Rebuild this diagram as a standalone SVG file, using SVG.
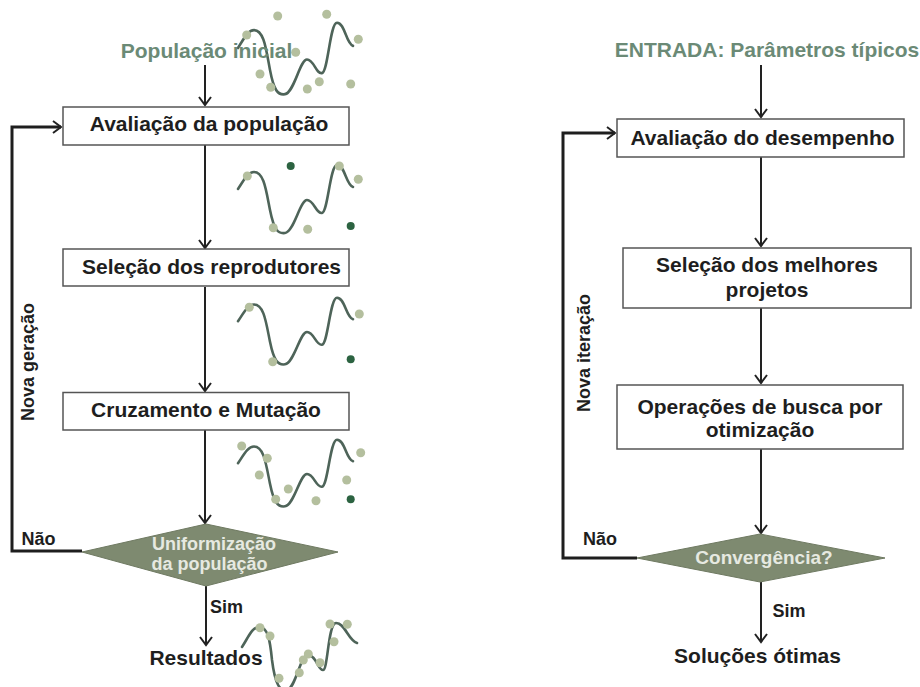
<svg xmlns="http://www.w3.org/2000/svg" width="920" height="687" viewBox="0 0 920 687">
<defs>
<style>
.box{fill:#fff;stroke:#555;stroke-width:1.5}
.dia{fill:#7e8a70;stroke:#6f7a62;stroke-width:1}
.t{font-family:"Liberation Sans",Arial,sans-serif;font-weight:bold;fill:#1e1e1e;text-anchor:middle}
.m{font-size:21px}
.d{font-size:18px}
.s{font-size:18px}
.g{fill:#6b8a76}
.w{fill:#e6e9e1}
.ln{fill:none;stroke:#222;stroke-width:2}
.loop{fill:none;stroke:#1e1e1e;stroke-width:3}
.cv{fill:none;stroke:#4e6459;stroke-width:2.6;stroke-linecap:round}
.lt{fill:#b4bf9e}
.dk{fill:#2c6341}
</style>
<marker id="ah" markerUnits="userSpaceOnUse" markerWidth="14" markerHeight="14" refX="9" refY="7" orient="auto" viewBox="0 0 14 14">
<path d="M1,1 L9,7 L1,13" fill="none" stroke="#222" stroke-width="2"/>
</marker>
<path id="wave" d="M8,39 C14,30 18,22 24,22 C34,22 36,40 40,60 C44,80 48,84 55,83 C64,82 70,50 77,50 C84,50 86,64 92,63 C98,62 100,15 107,15 C115,15 116,35 123,37"/>
</defs>

<g id="connectors">
<line class="ln" x1="205" y1="65" x2="205" y2="105" marker-end="url(#ah)"/>
<line class="ln" x1="205" y1="145" x2="205" y2="248" marker-end="url(#ah)"/>
<line class="ln" x1="205" y1="287" x2="205" y2="391" marker-end="url(#ah)"/>
<line class="ln" x1="205" y1="430" x2="205" y2="523" marker-end="url(#ah)"/>
<line class="ln" x1="206" y1="586" x2="206" y2="645" marker-end="url(#ah)"/>
<polyline class="loop" points="82,551 12,551 12,127 61,127" marker-end="url(#ah)"/>
<line class="ln" x1="761" y1="65" x2="761" y2="117" marker-end="url(#ah)"/>
<line class="ln" x1="761" y1="157" x2="761" y2="246" marker-end="url(#ah)"/>
<line class="ln" x1="761" y1="308" x2="761" y2="383" marker-end="url(#ah)"/>
<line class="ln" x1="761" y1="449" x2="761" y2="533" marker-end="url(#ah)"/>
<line class="ln" x1="761" y1="582" x2="761" y2="642" marker-end="url(#ah)"/>
<polyline class="loop" points="637,558 563,558 563,133 615,133" marker-end="url(#ah)"/>
</g>

<g id="curve1">
<use href="#wave" class="cv" transform="translate(230,7) scale(1,1.05)"/>
<circle class="lt" cx="277.7" cy="16" r="4.5"/>
<circle class="lt" cx="326.7" cy="14.3" r="4.5"/>
<circle class="lt" cx="246.7" cy="35" r="4.5"/>
<circle class="lt" cx="358.3" cy="39.3" r="4.5"/>
<circle class="lt" cx="295.7" cy="52.3" r="4.5"/>
<circle class="lt" cx="260" cy="74" r="4.5"/>
<circle class="lt" cx="270.7" cy="87.3" r="4.5"/>
<circle class="lt" cx="319.3" cy="81.7" r="4.5"/>
<circle class="lt" cx="307.3" cy="89" r="4.5"/>
<circle class="lt" cx="350.7" cy="84" r="4.5"/>
</g>

<g id="label-populacao">
<text class="t m g" x="206.5" y="58">População inicial</text>
</g>

<g id="curve2">
<use href="#wave" class="cv" transform="translate(230,150)"/>
<circle class="dk" cx="290.7" cy="166" r="4"/>
<circle class="lt" cx="247.3" cy="176" r="4.5"/>
<circle class="lt" cx="339.3" cy="166" r="4.5"/>
<circle class="lt" cx="358.3" cy="179.3" r="4.5"/>
<circle class="lt" cx="273.3" cy="227.7" r="4.5"/>
<circle class="lt" cx="307.7" cy="229.3" r="4.5"/>
<circle class="dk" cx="350.7" cy="226" r="4"/>
</g>

<g id="curve3">
<use href="#wave" class="cv" transform="translate(230,283) scale(1,0.98)"/>
<circle class="lt" cx="249.3" cy="307.3" r="4.5"/>
<circle class="lt" cx="359.3" cy="314" r="4.5"/>
<circle class="lt" cx="272.7" cy="361.7" r="4.5"/>
<circle class="dk" cx="350.7" cy="359.3" r="4"/>
</g>

<g id="curve4">
<use href="#wave" class="cv" transform="translate(230,425) scale(1,0.98)"/>
<circle class="lt" cx="241.7" cy="446" r="4.5"/>
<circle class="lt" cx="267.3" cy="458.3" r="4.5"/>
<circle class="lt" cx="360.7" cy="452.7" r="4.5"/>
<circle class="lt" cx="259.3" cy="475" r="4.5"/>
<circle class="lt" cx="346.7" cy="480" r="4.5"/>
<circle class="lt" cx="288.3" cy="489" r="4.5"/>
<circle class="lt" cx="275.7" cy="499.3" r="4.5"/>
<circle class="lt" cx="316" cy="500.7" r="4.5"/>
<circle class="dk" cx="350.7" cy="499.3" r="4"/>
</g>

<g id="curve5">
<path class="cv" d="M242,647 C248,638 252,627 259,627 C268,627 270,640 272,660 C275,684 280,692 287,690 C296,688 300,655 308,655 C316,655 318,670 323,670 C328,670 328,623 336,623 C345,623 348,640 357,643"/>
<circle class="lt" cx="260" cy="627.7" r="4.5"/>
<circle class="lt" cx="270" cy="636" r="4.5"/>
<circle class="lt" cx="330" cy="624" r="4.5"/>
<circle class="lt" cx="347.3" cy="624.3" r="4.5"/>
<circle class="lt" cx="334" cy="641.7" r="4.5"/>
<circle class="lt" cx="308.3" cy="654" r="4.5"/>
<circle class="lt" cx="303.3" cy="660" r="4.5"/>
<circle class="lt" cx="320" cy="662.7" r="4.5"/>
<circle class="lt" cx="299.3" cy="672.7" r="4.5"/>
<circle class="lt" cx="279" cy="678.3" r="4.5"/>
</g>

<g id="node-avaliacao-populacao">
<rect class="box" x="63" y="107" width="286" height="38"/>
<text class="t m" x="209" y="131">Avaliação da população</text>
</g>
<g id="node-selecao-reprodutores">
<rect class="box" x="63" y="249" width="286" height="37"/>
<text class="t m" x="211.5" y="273.5">Seleção dos reprodutores</text>
</g>
<g id="node-cruzamento">
<rect class="box" x="63" y="392.5" width="286" height="37.5"/>
<text class="t m" x="206" y="417">Cruzamento e Mutação</text>
</g>
<g id="node-uniformizacao">
<polygon class="dia" points="82,552 206,524 338,552 206,586"/>
<text class="t d w" x="214" y="549.5">Uniformização</text>
<text class="t d w" x="209.5" y="570">da população</text>
</g>
<g id="node-resultados">
<text class="t m" x="206" y="665">Resultados</text>
</g>
<g id="labels-left">
<text class="t s" x="38.5" y="545">Não</text>
<text class="t s" x="226.5" y="613">Sim</text>
<text class="t s" x="0" y="0" transform="translate(34,362) rotate(-90)">Nova geração</text>
</g>

<g id="label-entrada">
<text class="t m g" x="767" y="56.5">ENTRADA: Parâmetros típicos</text>
</g>
<g id="node-avaliacao-desempenho">
<rect class="box" x="617" y="119" width="287" height="38"/>
<text class="t m" x="762.5" y="145">Avaliação do desempenho</text>
</g>
<g id="node-selecao-melhores">
<rect class="box" x="623" y="248" width="288" height="60"/>
<text class="t m" x="767" y="272">Seleção dos melhores</text>
<text class="t m" x="767" y="297">projetos</text>
</g>
<g id="node-operacoes">
<rect class="box" x="617" y="385" width="286" height="64"/>
<text class="t m" x="760" y="413.5">Operações de busca por</text>
<text class="t m" x="760" y="437">otimização</text>
</g>
<g id="node-convergencia">
<polygon class="dia" points="637,558 760,534 885,558 760,582"/>
<text class="t w" x="764" y="564" font-size="19">Convergência?</text>
</g>
<g id="node-solucoes">
<text class="t m" x="757.5" y="663">Soluções ótimas</text>
</g>
<g id="labels-right">
<text class="t s" x="600" y="545">Não</text>
<text class="t s" x="789" y="617">Sim</text>
<text class="t s" x="0" y="0" transform="translate(590,353) rotate(-90)">Nova iteração</text>
</g>
</svg>
